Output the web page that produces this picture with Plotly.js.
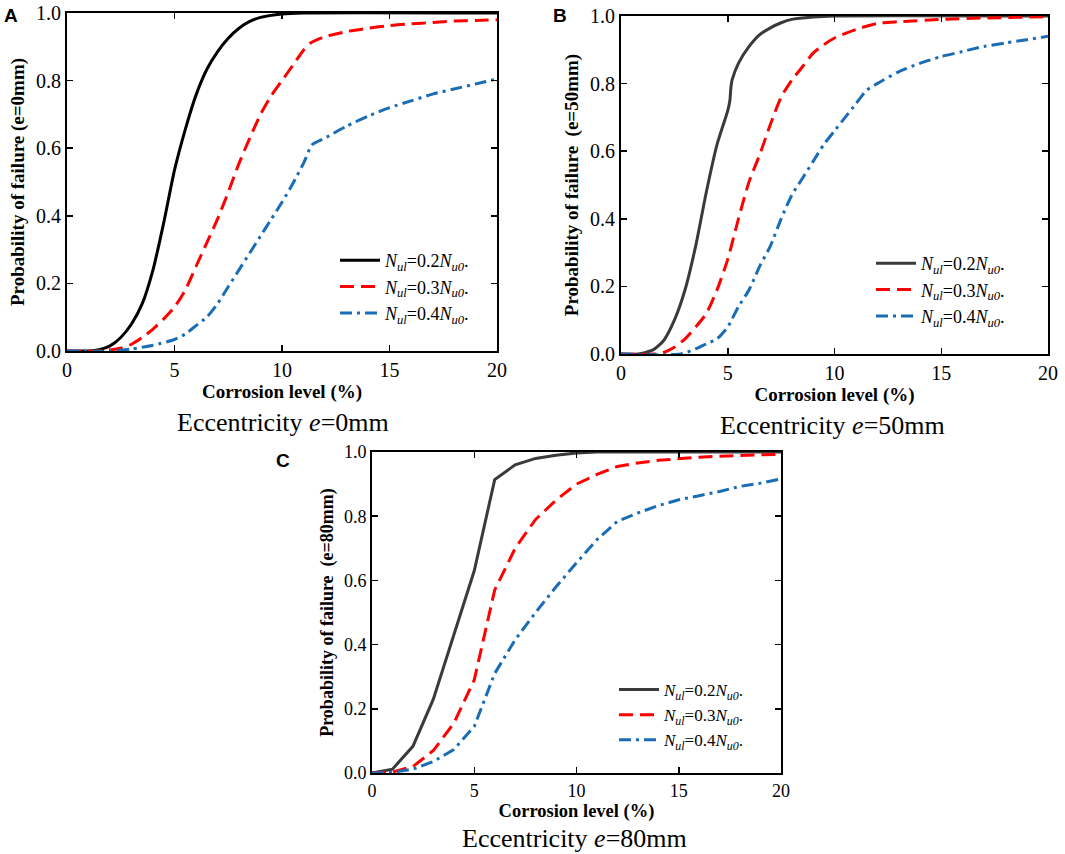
<!DOCTYPE html>
<html>
<head>
<meta charset="utf-8">
<script src="https://cdn.plot.ly/plotly-3.0.1.min.js"></script>
<style>
  html, body { margin: 0; padding: 0; background: #fff; }
  #chart { width: 1065px; height: 854px; }
</style>
</head>
<body>
<div id="chart"></div>
<script>
// Panel A, e = 0 mm
const xA02 = [0, 1, 1.5, 2, 2.5, 3, 3.5, 4, 4.5, 5, 5.5, 6, 6.5, 7, 7.5, 8, 8.5, 9, 10, 11, 20];
const pA02 = [0, 0, 0.004, 0.015, 0.04, 0.08, 0.14, 0.24, 0.38, 0.535, 0.655, 0.757, 0.833, 0.885, 0.925, 0.955, 0.975, 0.987, 0.997, 1.0, 1.0];
const xA03 = [0, 1.5, 2.5, 3, 3.5, 4, 4.5, 5, 5.5, 6, 6.5, 7, 7.5, 8, 8.5, 9, 9.5, 10, 10.5, 11, 11.3, 12, 13, 14, 15, 16, 17, 18, 19, 20];
const pA03 = [0, 0, 0.008, 0.02, 0.04, 0.065, 0.095, 0.13, 0.18, 0.25, 0.32, 0.39, 0.47, 0.555, 0.63, 0.7, 0.755, 0.8, 0.845, 0.89, 0.91, 0.93, 0.945, 0.955, 0.963, 0.968, 0.972, 0.976, 0.978, 0.98];
const xA04 = [0, 2, 3, 4, 5, 5.5, 6, 6.5, 7, 7.5, 8, 8.5, 9, 9.5, 10, 10.5, 11, 11.4, 12, 13, 14, 15, 16, 17, 18, 19, 20];
const pA04 = [0, 0, 0.006, 0.017, 0.034, 0.05, 0.075, 0.1, 0.14, 0.19, 0.24, 0.29, 0.34, 0.39, 0.44, 0.495, 0.555, 0.61, 0.63, 0.665, 0.695, 0.72, 0.74, 0.76, 0.775, 0.79, 0.805];

// Panel B, e = 50 mm
const xB02 = [0, 0.8, 1.5, 2, 2.5, 3, 3.5, 4, 4.5, 5, 5.1, 5.15, 5.2, 5.5, 6, 6.5, 7, 7.5, 8, 9, 10, 20];
const pB02 = [0, 0, 0.012, 0.04, 0.1, 0.19, 0.32, 0.48, 0.62, 0.72, 0.75, 0.79, 0.81, 0.86, 0.91, 0.945, 0.965, 0.98, 0.99, 0.997, 1.0, 1.0];
const xB03 = [0, 1.5, 2, 2.5, 3, 3.5, 4, 4.5, 5, 5.5, 6, 6.5, 7, 7.5, 8, 8.5, 9, 9.5, 10, 11, 12, 13, 15, 17, 20];
const pB03 = [0, 0, 0.005, 0.02, 0.045, 0.08, 0.12, 0.19, 0.28, 0.4, 0.51, 0.59, 0.68, 0.76, 0.81, 0.85, 0.89, 0.915, 0.935, 0.96, 0.978, 0.983, 0.99, 0.994, 0.998];
const xB04 = [0, 2.8, 3.5, 4, 4.5, 5, 5.5, 6, 6.5, 7, 7.5, 8, 8.5, 9, 9.5, 10, 10.5, 11, 11.5, 12, 13, 14, 15, 16, 17, 18, 19, 20];
const pB04 = [0, 0, 0.015, 0.03, 0.045, 0.08, 0.14, 0.19, 0.26, 0.32, 0.4, 0.47, 0.52, 0.57, 0.62, 0.66, 0.7, 0.74, 0.78, 0.8, 0.835, 0.86, 0.88, 0.895, 0.91, 0.92, 0.93, 0.94];

// Panel C, e = 80 mm (integer corrosion levels)
const xC = [0, 1, 2, 3, 4, 5, 6, 7, 8, 9, 10, 11, 12, 13, 14, 15, 16, 17, 18, 19, 20];
const pC02 = [0, 0.012, 0.083, 0.23, 0.43, 0.63, 0.914, 0.96, 0.98, 0.99, 0.997, 1, 1, 1, 1, 1, 1, 1, 1, 1, 1];
const pC03 = [0, 0.003, 0.02, 0.07, 0.155, 0.29, 0.57, 0.7, 0.79, 0.85, 0.9, 0.93, 0.955, 0.966, 0.974, 0.98, 0.984, 0.987, 0.989, 0.99, 0.993];
const pC04 = [0, 0.002, 0.012, 0.036, 0.073, 0.145, 0.31, 0.415, 0.5, 0.58, 0.655, 0.727, 0.784, 0.81, 0.833, 0.851, 0.864, 0.877, 0.893, 0.903, 0.916];

const seriesNames = [
  "<i>N<sub>ul</sub></i>=0.2<i>N<sub>u0</sub></i>.",
  "<i>N<sub>ul</sub></i>=0.3<i>N<sub>u0</sub></i>.",
  "<i>N<sub>ul</sub></i>=0.4<i>N<sub>u0</sub></i>."
];
const xTicks = [0, 5, 10, 15, 20];
const yTicks = [0, 0.2, 0.4, 0.6, 0.8, 1.0];
const xTitle = "Corrosion level (%)";
const yTitles = ["Probability of failure (e=0mm)", "Probability of failure  (e=50mm)", "Probability of failure  (e=80mm)"];
const captions = ["Eccentricity <i>e</i>=0mm", "Eccentricity <i>e</i>=50mm", "Eccentricity <i>e</i>=80mm"];
const panelLetters = ["A", "B", "C"];

const W = 1065, H = 854;
const RED = "#ff0000", BLUE = "#1a6db5";
const SERIF = "'Liberation Serif', 'Times New Roman', serif";

function line(x, y, name, color, dash, axis, legend, shape) {
  return {
    x, y, name, type: "scatter", mode: "lines",
    line: { color, width: 3, dash, shape, smoothing: 0.6 },
    xaxis: "x" + axis, yaxis: "y" + axis,
    legend
  };
}

const DASH = "14px,7px", DASHDOT = "12px,5px,3px,5px";
const traces = [
  line(xA02, pA02, seriesNames[0], "#000000", "solid", "", "legend", "spline"),
  line(xA03, pA03, seriesNames[1], RED, DASH, "", "legend", "spline"),
  line(xA04, pA04, seriesNames[2], BLUE, DASHDOT, "", "legend", "spline"),
  line(xB02, pB02, seriesNames[0], "#3a3a3a", "solid", "2", "legend2", "spline"),
  line(xB03, pB03, seriesNames[1], RED, DASH, "2", "legend2", "spline"),
  line(xB04, pB04, seriesNames[2], BLUE, DASHDOT, "2", "legend2", "spline"),
  line(xC, pC02, seriesNames[0], "#3a3a3a", "solid", "3", "legend3", "linear"),
  line(xC, pC03, seriesNames[1], RED, DASH, "3", "legend3", "linear"),
  line(xC, pC04, seriesNames[2], BLUE, DASHDOT, "3", "legend3", "linear")
];

// pixel boxes of the three plot areas
const boxes = [
  { l: 67, r: 497, t: 13, b: 351, tick: 20, xt: 19, yt: 19, so: 0 },
  { l: 621, r: 1048, t: 16, b: 354, tick: 20, xt: 19, yt: 19, so: 0 },
  { l: 372, r: 781, t: 452, b: 773, tick: 18, xt: 18.5, yt: 18, so: 1 }
];

function xAxis(b, anchor) {
  return {
    domain: [b.l / W, b.r / W], anchor, range: [0, 20],
    tickvals: xTicks, ticks: "inside", ticklen: 6, tickwidth: 1.5, tickcolor: "#000",
    showline: true, linecolor: "#000", linewidth: 2, mirror: "ticks",
    showgrid: false, zeroline: false,
    tickfont: { family: SERIF, size: b.tick, color: "#000" },
    title: { text: "<b>" + xTitle + "</b>", font: { family: SERIF, size: b.xt, color: "#000" }, standoff: b.so }
  };
}
function yAxis(b, anchor, title) {
  return {
    domain: [1 - b.b / H, 1 - b.t / H], anchor, range: [0, 1],
    tickvals: yTicks, ticktext: yTicks.map(v => v.toFixed(1)),
    ticks: "inside", ticklen: 6, tickwidth: 1.5, tickcolor: "#000",
    showline: true, linecolor: "#000", linewidth: 2, mirror: "ticks",
    showgrid: false, zeroline: false,
    tickfont: { family: SERIF, size: b.tick, color: "#000" },
    title: { text: "<b>" + title + "</b>", font: { family: SERIF, size: b.yt, color: "#000" }, standoff: 6 }
  };
}
function legendAt(px, py, size) {
  return {
    x: px / W, y: 1 - py / H, xanchor: "left", yanchor: "top",
    bgcolor: "rgba(0,0,0,0)", borderwidth: 0, tracegroupgap: 0,
    itemwidth: 40, font: { family: SERIF, size, color: "#000" }
  };
}

const layout = {
  width: W, height: H,
  margin: { l: 0, r: 0, t: 0, b: 0 },
  paper_bgcolor: "#fff", plot_bgcolor: "#fff",
  showlegend: true,
  xaxis: xAxis(boxes[0], "y"),
  yaxis: yAxis(boxes[0], "x", yTitles[0]),
  xaxis2: xAxis(boxes[1], "y2"),
  yaxis2: yAxis(boxes[1], "x2", yTitles[1]),
  xaxis3: xAxis(boxes[2], "y3"),
  yaxis3: yAxis(boxes[2], "x3", yTitles[2]),
  legend: legendAt(335, 242, 18),
  legend2: legendAt(871, 245, 18),
  legend3: legendAt(614, 672, 17),
  annotations: [
    { text: captions[0], x: 283 / W, y: 1 - 422 / H },
    { text: captions[1], x: 832 / W, y: 1 - 425 / H },
    { text: captions[2], x: 574 / W, y: 1 - 838 / H }
  ].map(a => Object.assign({
    xref: "paper", yref: "paper", xanchor: "center", yanchor: "middle", showarrow: false,
    font: { family: SERIF, size: 26, color: "#000" }
  }, a)).concat([
    { text: panelLetters[0], x: 11 / W, y: 1 - 15 / H },
    { text: panelLetters[1], x: 560 / W, y: 1 - 15 / H },
    { text: panelLetters[2], x: 283 / W, y: 1 - 460 / H }
  ].map(a => Object.assign({
    xref: "paper", yref: "paper", xanchor: "center", yanchor: "middle", showarrow: false,
    font: { family: "'Liberation Sans', Arial, sans-serif", size: 19, color: "#000", weight: "bold" }
  }, a)))
};

Plotly.newPlot("chart", traces, layout, { staticPlot: true, displayModeBar: false });
</script>
</body>
</html>
